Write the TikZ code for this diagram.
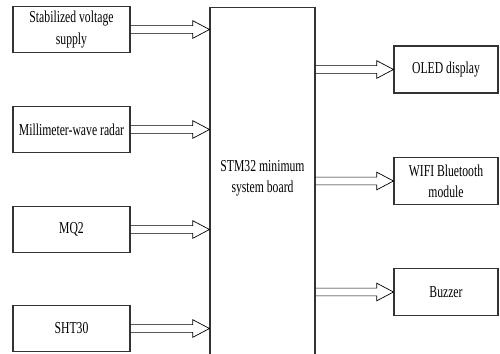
\documentclass[tikz,border=0pt]{standalone}
\usepackage{fontspec}
\setmainfont{Liberation Serif}[FakeStretch=0.7]
\usetikzlibrary{calc}

\begin{document}
\begin{tikzpicture}[x=0.02cm, y=-0.02cm,
	box/.style={draw=black!80, line width=0.6pt, font=\fontsize{9.5}{12}\selectfont, align=center, inner sep=0pt},
	fat/.style={draw=black!70, line width=0.6pt, to path={let \p1=(\tikztostart), \p2=(\tikztotarget) in
		(\x1,\y1+2.2pt) -- (\x2-9.5pt,\y1+2.2pt) -- (\x2-9.5pt,\y1+5pt) -- (\x2,\y1)
		-- (\x2-9.5pt,\y1-5pt) -- (\x2-9.5pt,\y1-2.2pt) -- (\x1,\y1-2.2pt)}}]
	\useasboundingbox (0,0) rectangle (500,353);
	\clip (0,0) rectangle (500,353);
	% STM32 board, runs off the bottom
	\node[box, minimum width=2.1cm, minimum height=7.4cm, anchor=north] (board) at (262.5,7) {};
	\node[font=\fontsize{9.5}{12}\selectfont, align=center] (boardtext) at (262.5,178) {STM32 minimum\\system board};
	% inputs
	\foreach \id/\yy/\lbl in {supply/29.5/{Stabilized voltage\\supply}, radar/129.5/{Millimeter-wave radar}, mq/229.5/MQ2, sht/328.5/SHT30} {
		\node[box, minimum width=2.34cm, minimum height=0.92cm] (\id) at (71.5,\yy) {\lbl};
		\draw (\id.east) to[fat] (\id.east -| board.west);
	}
	% outputs
	\foreach \id/\yy/\lbl in {oled/69.5/OLED display, wifi/181/{WIFI Bluetooth\\module}, buzzer/292/Buzzer} {
		\node[box, minimum width=2.08cm, minimum height=0.94cm] (\id) at (446,\yy) {\lbl};
		\draw (board.east |- \id.west) to[fat] (\id.west);
	}
\end{tikzpicture}
\end{document}
